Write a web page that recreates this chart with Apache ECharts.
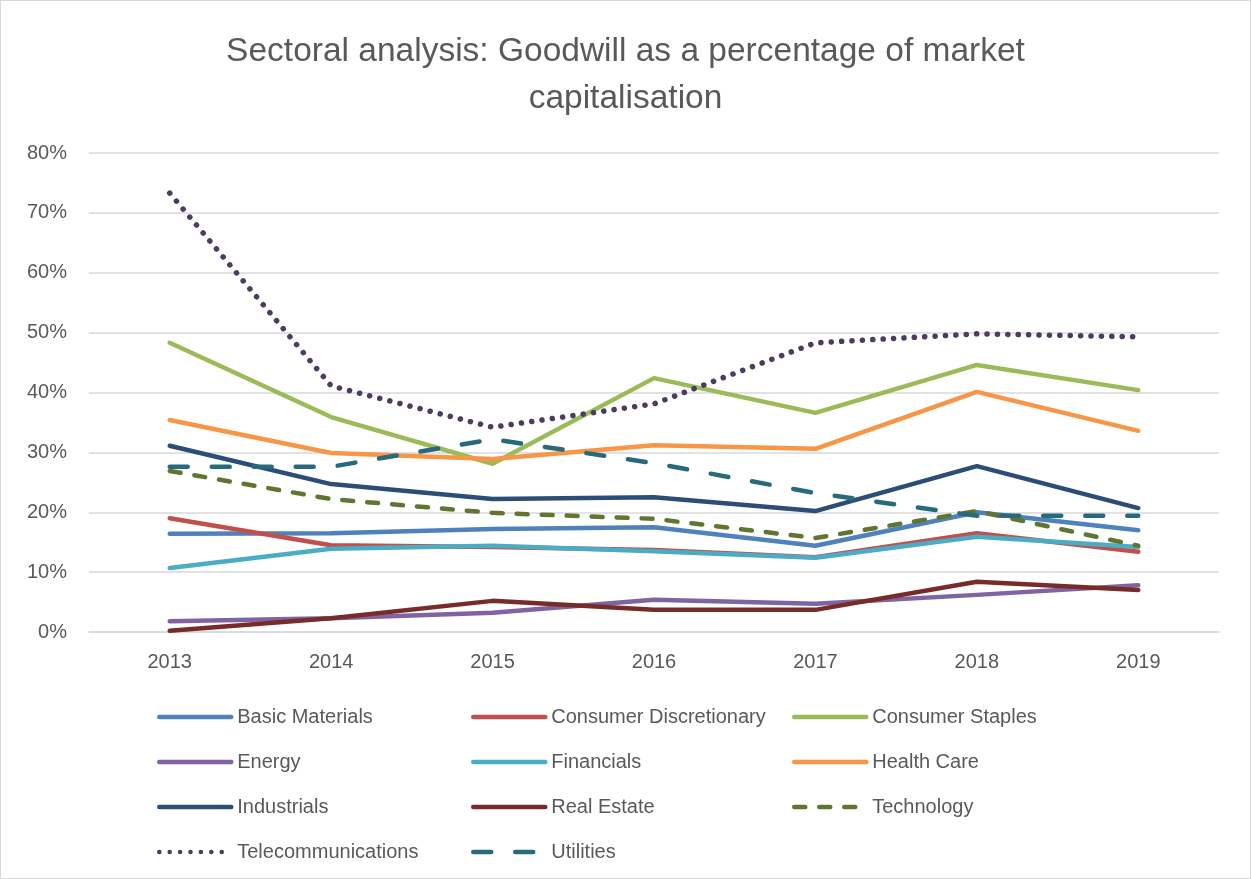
<!DOCTYPE html>
<html>
<head>
<meta charset="utf-8">
<script src="https://cdn.jsdelivr.net/npm/echarts@6/dist/echarts.min.js"></script>
<style>
  html, body { margin: 0; padding: 0; background: #fff; }
  #chart { width: 1249px; height: 877px; border: 1px solid #d9d9d9; }
</style>
</head>
<body>
<div id="chart"></div>
<script>
// data
const years = ['2013', '2014', '2015', '2016', '2017', '2018', '2019']
const basicMaterials = [16.4, 16.5, 17.2, 17.5, 14.4, 20.0, 17.0]
const consumerDiscretionary = [19.0, 14.5, 14.2, 13.7, 12.5, 16.5, 13.4]
const consumerStaples = [48.3, 35.9, 28.1, 42.4, 36.6, 44.6, 40.4]
const energy = [1.8, 2.3, 3.2, 5.4, 4.7, 6.2, 7.8]
const financials = [10.7, 13.9, 14.4, 13.5, 12.4, 15.9, 14.2]
const healthCare = [35.4, 29.9, 28.9, 31.2, 30.6, 40.1, 33.6]
const industrials = [31.1, 24.7, 22.2, 22.5, 20.2, 27.7, 20.7]
const realEstate = [0.2, 2.3, 5.2, 3.7, 3.7, 8.4, 7.0]
const technology = [26.9, 22.2, 19.9, 18.9, 15.7, 20.2, 14.4]
const telecommunications = [73.3, 41.1, 34.2, 38.1, 48.3, 49.8, 49.3]
const utilities = [27.6, 27.6, 32.2, 28.2, 23.2, 19.4, 19.4]
const yTicks = [0, 10, 20, 30, 40, 50, 60, 70, 80]

const font = 'Liberation Sans, Arial, sans-serif'
const textColor = '#595959'

function line(name, data, color, type, width) {
  return {
    name: name,
    type: 'line',
    data: data,
    symbol: 'none',
    smooth: false,
    lineStyle: {
      color: color,
      width: width || 4.5,
      type: type || 'solid',
      cap: 'round',
      join: 'round'
    },
    itemStyle: { color: color }
  }
}

const series = [
  line('Basic Materials', basicMaterials, '#4F81BD'),
  line('Consumer Discretionary', consumerDiscretionary, '#C0504D'),
  line('Consumer Staples', consumerStaples, '#9BBB59'),
  line('Energy', energy, '#8064A2'),
  line('Financials', financials, '#4BACC6'),
  line('Health Care', healthCare, '#F79646'),
  line('Industrials', industrials, '#2C4D75'),
  line('Real Estate', realEstate, '#772C2A'),
  line('Technology', technology, '#5F7530', [11, 14]),
  line('Telecommunications', telecommunications, '#4D3B62', [0.1, 10.3], 5.5),
  line('Utilities', utilities, '#276A7C', [18, 24])
]

function legendCol(left, names) {
  return {
    orient: 'vertical',
    left: left,
    top: 701,
    itemWidth: 72,
    itemHeight: 14,
    itemGap: 25,
    data: names,
    itemStyle: { opacity: 0 },
    lineStyle: { width: 4.5, cap: 'round' },
    textStyle: { fontFamily: font, fontSize: 20, color: textColor, padding: [0, 0, 0, 1] }
  }
}

const option = {
  animation: false,
  backgroundColor: '#fff',
  title: {
    text: 'Sectoral analysis: Goodwill as a percentage of market\ncapitalisation',
    left: 'center',
    top: 22,
    textStyle: {
      fontFamily: font,
      fontSize: 33.5,
      fontWeight: 'normal',
      color: textColor,
      lineHeight: 47
    }
  },
  grid: { left: 88, right: 31, top: 152, bottom: 246, containLabel: false },
  xAxis: {
    type: 'category',
    data: years,
    boundaryGap: true,
    axisLine: { lineStyle: { color: '#d9d9d9', width: 1.5 } },
    axisTick: { show: false },
    axisLabel: { fontFamily: font, fontSize: 20, color: textColor, margin: 20 }
  },
  yAxis: {
    type: 'value',
    min: yTicks[0],
    max: yTicks[yTicks.length - 1],
    interval: 10,
    axisLine: { show: false },
    axisTick: { show: false },
    splitLine: { lineStyle: { color: '#d9d9d9', width: 1.5 } },
    axisLabel: { fontFamily: font, fontSize: 20, color: textColor, margin: 22, formatter: '{value}%' }
  },
  legend: [
    legendCol(151, ['Basic Materials', 'Energy', 'Industrials', 'Telecommunications']),
    legendCol(465, ['Consumer Discretionary', 'Financials', 'Real Estate', 'Utilities']),
    legendCol(786, ['Consumer Staples', 'Health Care', 'Technology'])
  ],
  series: series
}

const chart = echarts.init(document.getElementById('chart'))
chart.setOption(option)
</script>
</body>
</html>
